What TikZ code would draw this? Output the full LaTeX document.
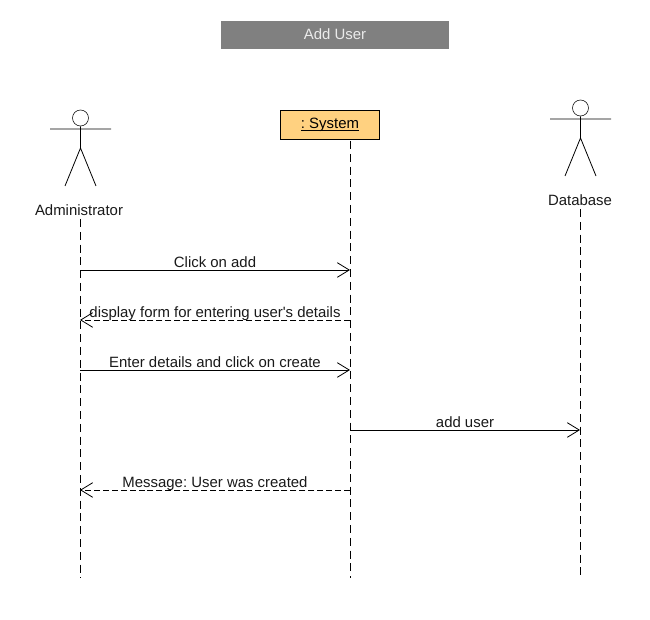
\documentclass[tikz,border=0pt]{standalone}
\usepackage{fontspec}
\setmainfont{Liberation Sans}
\usetikzlibrary{arrows.meta}
\frenchspacing
\newcommand{\ulname}[1]{\setbox0\hbox{#1}\dimen0=\wd0 \hbox{\rlap{\box0}\rule[-1.5pt]{\dimen0}{0.55pt}}}
\definecolor{titlegray}{RGB}{128,128,128}
\definecolor{boxorange}{RGB}{255,209,128}
\tikzset{
    lab/.style={font=\fontsize{11.2pt}{12pt}\selectfont,text=black!90,inner sep=0pt},
    msglab/.style={lab,text height=8pt,text depth=2.4pt},
    head/.style={circle,draw,inner sep=0pt,minimum size=12pt},
    lifeline/.style={dash pattern=on 6pt off 3.6pt,line width=0.6pt},
    msg/.style={-{Straight Barb[length=9pt,width=11pt,line width=0.6pt]},line width=0.6pt},
    reply/.style={msg,dash pattern=on 4.5pt off 2.2pt},
    limb/.style={line width=0.6pt}
}
\begin{document}
\begin{tikzpicture}[x=0.75pt,y=-0.75pt]
            \useasboundingbox (0,0) rectangle (650,620);
            \node (title) at (335,35) [fill=titlegray,minimum width=171pt,minimum height=21pt,inner sep=0pt,lab,text=white!92!black] {\raisebox{2.1pt}{Add User}};
            % actors
            \node (admhead) at (80.5,118) [head] {};
            \coordinate (admhip) at (80.5,148);
            \coordinate (admarml) at (50,129);
            \coordinate (admarmr) at (111,129);
            \coordinate (admlegl) at (65,186);
            \coordinate (admlegr) at (96,186);
            \draw[limb] (admhead) -- (admhip) (admarml) -- (admarmr) (admhip) -- (admlegl) (admhip) -- (admlegr);
            \node (adm) at (79,210) [lab] {Administrator};
            \node (dbhead) at (580.5,108) [head] {};
            \coordinate (dbhip) at (580.5,138);
            \coordinate (dbarml) at (550,119);
            \coordinate (dbarmr) at (611,119);
            \coordinate (dblegl) at (565,176);
            \coordinate (dblegr) at (596,176);
            \draw[limb] (dbhead) -- (dbhip) (dbarml) -- (dbarmr) (dbhip) -- (dblegl) (dbhip) -- (dblegr);
            \node (db) at (580,200) [lab] {Database};
            \node (sys) at (330,124.75) [draw,fill=boxorange,line width=0.6pt,minimum width=74.6pt,minimum height=21.9pt,inner sep=0pt,lab,text=black] {\ulname{: System}};
            % lifelines
            \coordinate (admtop) at (80,219);
            \coordinate (admbot) at (80,578);
            \coordinate (systop) at (350,141);
            \coordinate (sysbot) at (350,578);
            \coordinate (dbtop) at (580,209);
            \coordinate (dbbot) at (580,580);
            \draw[lifeline] (admtop) -- (admbot) (systop) -- (sysbot) (dbtop) -- (dbbot);
            % messages
            \coordinate (a1) at (80,270);
            \coordinate (s1) at (350,270);
            \coordinate (a2) at (80,320);
            \coordinate (s2) at (350,320);
            \coordinate (a3) at (80,370);
            \coordinate (s3) at (350,370);
            \coordinate (s4) at (350,430);
            \coordinate (d4) at (580,430);
            \coordinate (a5) at (80,490);
            \coordinate (s5) at (350,490);
            \draw[msg] (a1) -- (s1) node[midway,above=-0.9pt,msglab] (m1) {Click on add};
            \draw[reply] (s2) -- (a2) node[midway,above=-0.9pt,msglab] (m2) {display form for entering user\textquotesingle s details};
            \draw[msg] (a3) -- (s3) node[midway,above=-0.9pt,msglab] (m3) {Enter details and click on create};
            \draw[msg] (s4) -- (d4) node[midway,above=-0.9pt,msglab] (m4) {add user};
            \draw[reply] (s5) -- (a5) node[midway,above=-0.9pt,msglab] (m5) {Message: User was created};
        \end{tikzpicture}
\end{document}
